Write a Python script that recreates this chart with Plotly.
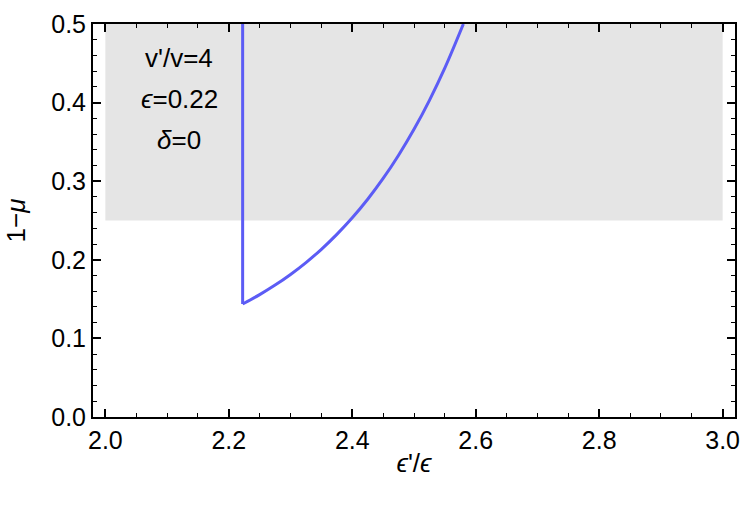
import plotly.graph_objects as go

# Vertical boundary segment (ϵ'/ϵ fixed)
wall_x = [2.2224, 2.2224]
wall_y = [0.5, 0.1438]

# Curve data (ϵ'/ϵ vs 1−μ)
curve_x = [2.2224, 2.25, 2.275, 2.30, 2.325, 2.35, 2.375, 2.40, 2.425, 2.45,
           2.475, 2.50, 2.525, 2.55, 2.58]
curve_y = [0.1438, 0.1557, 0.1678, 0.1814, 0.1965, 0.2134, 0.2324, 0.2535, 0.2771, 0.3035,
           0.3331, 0.3660, 0.4029, 0.4441, 0.5000]

# Shaded region bounds
shade_x = [2.0, 3.0]
shade_y = [0.25, 0.5]

x_ticks = [2.0, 2.2, 2.4, 2.6, 2.8, 3.0]
y_ticks = [0.0, 0.1, 0.2, 0.3, 0.4, 0.5]

labels = ["v'/v=4", "<i>ϵ</i>=0.22", "<i>δ</i>=0"]
label_y = [0.457, 0.404, 0.352]

FONT = "Liberation Sans, Arial, sans-serif"
LINE_COLOR = "#5c5cf5"

fig = go.Figure()
fig.add_trace(go.Scatter(x=wall_x, y=wall_y, mode="lines",
                         line=dict(color=LINE_COLOR, width=3), showlegend=False))
fig.add_trace(go.Scatter(x=curve_x, y=curve_y, mode="lines",
                         line=dict(color=LINE_COLOR, width=3, shape="spline", smoothing=1.0),
                         showlegend=False))

fig.add_shape(type="rect", xref="x", yref="y", x0=shade_x[0], x1=shade_x[1],
              y0=shade_y[0], y1=shade_y[1], fillcolor="#e5e5e5", line=dict(width=0),
              layer="below")

for t, yy in zip(labels, label_y):
    fig.add_annotation(x=2.12, y=yy, xref="x", yref="y", text=t, showarrow=False,
                       font=dict(size=26, color="black", family=FONT))

axis_common = dict(showline=True, linecolor="black", linewidth=2, mirror="allticks",
                   ticks="inside", ticklen=8, tickwidth=1.5, tickcolor="black",
                   showgrid=False, zeroline=False,
                   tickfont=dict(size=25, color="black", family=FONT))

fig.update_xaxes(range=[1.98, 3.02], tickvals=x_ticks,
                 ticktext=[f"{v:.1f}" for v in x_ticks],
                 minor=dict(ticks="inside", dtick=0.05, tick0=2.0, ticklen=4,
                            tickcolor="black", tickwidth=1.2),
                 title=dict(text="<i>ϵ</i>'/<i>ϵ</i>", font=dict(size=26, color="black", family=FONT),
                            standoff=1),
                 **axis_common)
fig.update_yaxes(range=[0, 0.5], tickvals=y_ticks,
                 ticktext=[f"{v:.1f}" for v in y_ticks],
                 minor=dict(ticks="inside", dtick=0.02, tick0=0.0, ticklen=4,
                            tickcolor="black", tickwidth=1.2),
                 title=dict(text="1−<i>μ</i>", font=dict(size=26, color="black", family=FONT),
                            standoff=18),
                 **axis_common)

fig.update_layout(width=750, height=511, margin=dict(l=93, r=10, t=16, b=94),
                  plot_bgcolor="white", paper_bgcolor="white")

fig.write_html("out.html")
